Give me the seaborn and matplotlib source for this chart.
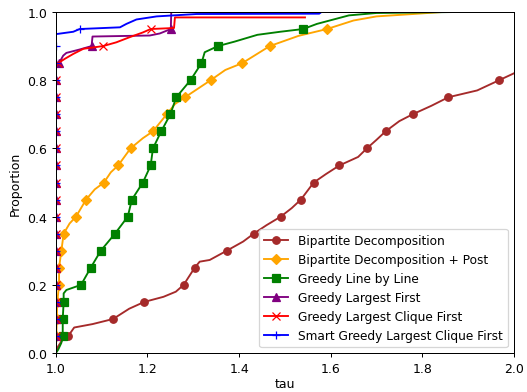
import matplotlib
matplotlib.use("Agg")
import matplotlib.pyplot as plt
import seaborn as sns

labels = ["Bipartite Decomposition", "Bipartite Decomposition + Post",
          "Greedy Line by Line", "Greedy Largest First",
          "Greedy Largest Clique First", "Smart Greedy Largest Clique First"]

tau_bd = [1.000, 1.005, 1.015, 1.027, 1.040, 1.080, 1.125, 1.160, 1.193, 1.235,
          1.262, 1.279, 1.303, 1.314, 1.336, 1.373, 1.409, 1.432, 1.460, 1.491,
          1.515, 1.535, 1.563, 1.590, 1.619, 1.660, 1.679, 1.700, 1.720, 1.750,
          1.779, 1.820, 1.857, 1.920, 1.968, 2.000]
p_bd = [0.000, 0.020, 0.040, 0.050, 0.075, 0.085, 0.100, 0.130, 0.150, 0.165,
        0.180, 0.200, 0.250, 0.268, 0.273, 0.300, 0.327, 0.350, 0.375, 0.400,
        0.425, 0.450, 0.500, 0.525, 0.550, 0.575, 0.600, 0.625, 0.650, 0.680,
        0.700, 0.725, 0.750, 0.770, 0.800, 0.820]

tau_bdp = [1.000, 1.001, 1.002, 1.003, 1.007, 1.007, 1.012, 1.017, 1.030, 1.044,
           1.066, 1.085, 1.105, 1.120, 1.136, 1.163, 1.190, 1.212, 1.242, 1.260,
           1.282, 1.338, 1.370, 1.407, 1.467, 1.530, 1.592, 1.650, 1.700, 1.780,
           1.845]
p_bdp = [0.000, 0.050, 0.100, 0.150, 0.200, 0.250, 0.300, 0.350, 0.380, 0.400,
         0.450, 0.480, 0.500, 0.530, 0.550, 0.600, 0.630, 0.650, 0.700, 0.730,
         0.750, 0.800, 0.830, 0.850, 0.900, 0.930, 0.950, 0.975, 0.987, 0.994,
         1.000]

tau_gll = [1.000, 1.005, 1.012, 1.015, 1.015, 1.017, 1.017, 1.023, 1.055, 1.076,
           1.098, 1.129, 1.157, 1.166, 1.190, 1.207, 1.212, 1.230, 1.250, 1.263,
           1.294, 1.318, 1.325, 1.354, 1.390, 1.440, 1.490, 1.540, 1.570, 1.640,
           1.700, 1.880]
p_gll = [0.000, 0.010, 0.030, 0.050, 0.100, 0.150, 0.175, 0.185, 0.200, 0.250,
         0.300, 0.350, 0.400, 0.450, 0.500, 0.550, 0.600, 0.650, 0.700, 0.750,
         0.800, 0.850, 0.882, 0.900, 0.913, 0.933, 0.942, 0.950, 0.965, 0.990,
         0.997, 1.000]

tau_glf = [1.000, 1.000, 1.000, 1.000, 1.000, 1.000, 1.000, 1.000, 1.000, 1.000,
           1.000, 1.000, 1.000, 1.000, 1.000, 1.000, 1.000, 1.000, 1.007, 1.016,
           1.023, 1.052, 1.078, 1.080, 1.205, 1.227, 1.251, 1.252]
p_glf = [0.000, 0.050, 0.100, 0.150, 0.200, 0.250, 0.300, 0.350, 0.400, 0.450,
         0.500, 0.550, 0.600, 0.650, 0.700, 0.750, 0.800, 0.838, 0.850, 0.872,
         0.880, 0.890, 0.900, 0.928, 0.931, 0.937, 0.950, 1.000]

tau_glcf = [1.000, 1.000, 1.000, 1.000, 1.000, 1.000, 1.000, 1.000, 1.000, 1.000,
            1.000, 1.000, 1.000, 1.000, 1.000, 1.000, 1.000, 1.000, 1.005, 1.020,
            1.038, 1.060, 1.103, 1.132, 1.161, 1.190, 1.207, 1.258, 1.260, 1.544]
p_glcf = [0.000, 0.050, 0.100, 0.150, 0.200, 0.250, 0.300, 0.350, 0.400, 0.450,
          0.500, 0.550, 0.600, 0.650, 0.700, 0.750, 0.800, 0.838, 0.850, 0.863,
          0.877, 0.892, 0.900, 0.911, 0.926, 0.940, 0.950, 0.953, 0.984, 0.984]

tau_sglcf = [1.000, 1.000, 1.000, 1.000, 1.000, 1.000, 1.000, 1.000, 1.000, 1.000,
             1.000, 1.000, 1.000, 1.000, 1.000, 1.000, 1.000, 1.000, 1.000, 1.000,
             1.038, 1.052, 1.140, 1.154, 1.176, 1.220, 1.307, 1.575, 1.580]
p_sglcf = [0.000, 0.050, 0.100, 0.150, 0.200, 0.250, 0.300, 0.350, 0.400, 0.450,
           0.500, 0.550, 0.600, 0.650, 0.700, 0.750, 0.800, 0.850, 0.900, 0.935,
           0.942, 0.950, 0.955, 0.965, 0.978, 0.987, 0.994, 0.995, 1.000]

xticks = [1.0, 1.2, 1.4, 1.6, 1.8, 2.0]
yticks = [0.0, 0.2, 0.4, 0.6, 0.8, 1.0]

series = [
    (tau_bd, p_bd, "brown", "o"),
    (tau_bdp, p_bdp, "orange", "D"),
    (tau_gll, p_gll, "green", "s"),
    (tau_glf, p_glf, "purple", "^"),
    (tau_glcf, p_glcf, "red", "x"),
    (tau_sglcf, p_sglcf, "blue", "+"),
]

DPI = 90
fig, ax = plt.subplots(figsize=(527 / DPI, 393 / DPI), dpi=DPI)

for (tx, py, col, mk), lab in zip(series, labels):
    marks = [i for i, v in enumerate(py)
             if 0 < v < 0.999 and abs(v * 20 - round(v * 20)) < 1e-6]
    sns.lineplot(x=tx, y=py, ax=ax, estimator=None, sort=False,
                 color=col, marker=mk, markevery=marks, markersize=6,
                 markeredgecolor=col, markeredgewidth=1.0, linewidth=1.5,
                 label=lab)

ax.set_xlim(1.0, 2.0)
ax.set_ylim(0.0, 1.0)
ax.set_xticks(xticks)
ax.set_yticks(yticks)
ax.set_xlabel("tau", labelpad=1.5)
ax.set_ylabel("Proportion")
ax.legend(loc="lower right", fontsize=9.7)

fig.subplots_adjust(left=0.106, right=0.975, bottom=0.099, top=0.967)
fig.savefig("out.png", dpi=DPI)
